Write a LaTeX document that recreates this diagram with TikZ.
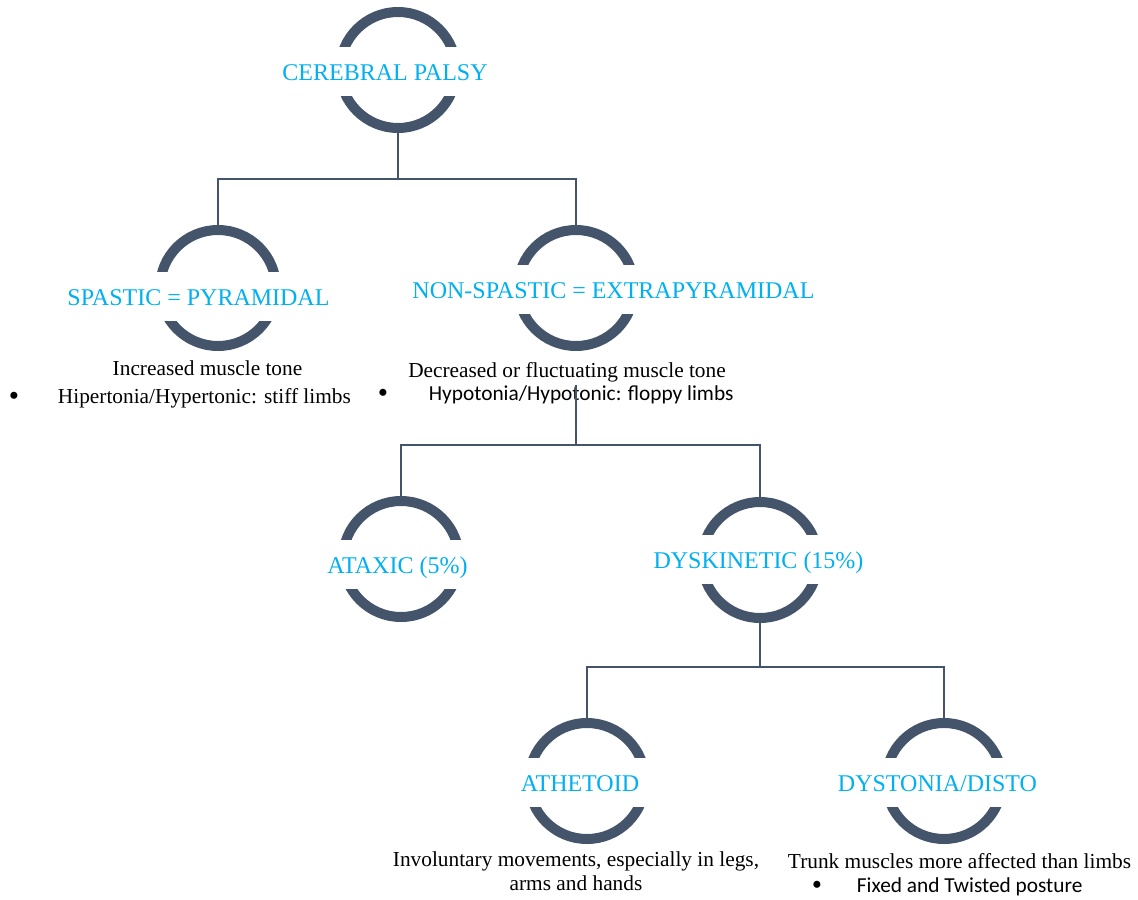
\documentclass[tikz,border=0pt]{standalone}
\usepackage{fontspec}
\setmainfont{Liberation Serif}
\newfontfamily\calibfont{Carlito}
\usetikzlibrary{positioning, calc}
\definecolor{ringgray}{HTML}{44546A}
\definecolor{cpblue}{HTML}{00B0F0}

\begin{document}
\begin{tikzpicture}[
  x=0.75pt, y=-0.75pt,
  ring/.style = {circle, draw=ringgray, line width=7.5pt, minimum size=87pt, inner sep=0pt},
  headlbl/.style = {fill=white, text=cpblue, font=\fontsize{18}{21}\selectfont, anchor=base,
                    text height=22pt, text depth=9.5pt, inner ysep=2.5pt, inner xsep=4pt, minimum width=112pt},
  desc/.style = {anchor=base, font=\fontsize{16}{19}\selectfont, inner sep=2pt},
  bulldot/.style = {anchor=base, font=\fontsize{22}{22}\selectfont, inner sep=0pt, text depth=0pt, text height=8pt},
  bultxt/.style = {desc, anchor=base west, font=\calibfont\fontsize{16}{19}\selectfont},
  conn/.style = {draw=ringgray, line width=1pt}
]
  \useasboundingbox (0,0) rectangle (1138,899);

  % ======================================================
  % Rings
  % ======================================================
  \node[ring] (cp)  at (398,70)  {};
  \node[ring] (sp)  at (218,288) {};
  \node[ring] (nsp) at (576,288) {};
  \node[ring] (at)  at (401,559) {};
  \node[ring] (dk)  at (760,560) {};
  \node[ring] (ath) at (587,781) {};
  \node[ring] (dys) at (944,781) {};

  % ======================================================
  % Descriptions under the rings
  % ======================================================
  % spastic
  \node[desc] (spd) at (207.5,375) {Increased muscle tone};
  \node[bulldot] (spdot) at (14,405) {•};
  \node[desc, anchor=base west] (spb) at (55,403) {Hipertonia/Hypertonic: stiff limbs};

  % non-spastic
  \node[desc, fill=white] (nspd) at (567,377) {Decreased or fluctuating muscle tone};
  \node[bulldot] (nspdot) at (383,402) {•};
  \node[bultxt] (nspb) at (426,400) {Hypotonia/Hypotonic: floppy limbs};

  % athetoid
  \node[desc] (athd)  at (576,866) {Involuntary movements, especially in legs,};
  \node[desc] (athd2) at (576,890) {arms and hands};

  % dystonia
  \node[desc] (dysd) at (959.5,868) {Trunk muscles more affected than limbs};
  \node[bulldot] (dysdot) at (817,894) {•};
  \node[bultxt] (dysb) at (854,892) {Fixed and Twisted posture};

  % ======================================================
  % Connectors
  % ======================================================
  \coordinate (j1) at (398,179);
  \coordinate (j2) at (576,445);
  \coordinate (j3) at (760,667);

  \draw[conn] (cp.south) -- (j1);
  \draw[conn] (j1) -| (sp.north);
  \draw[conn] (j1) -| (nsp.north);

  \draw[conn] (nspd.south -| nsp.south) -- (j2);
  \draw[conn] (j2) -| (at.north);
  \draw[conn] (j2) -| (dk.north);

  \draw[conn] (dk.south) -- (j3);
  \draw[conn] (j3) -| (ath.north);
  \draw[conn] (j3) -| (dys.north);

  % ======================================================
  % Ring labels (white boxes cut the rings)
  % ======================================================
  \node[headlbl] (cpl)  at (385,80)    {CEREBRAL PALSY};
  \node[headlbl] (spl)  at (198.5,305) {SPASTIC = PYRAMIDAL};
  \node[headlbl] (nspl) at (613.5,298) {NON-SPASTIC = EXTRAPYRAMIDAL};
  \node[headlbl] (atl)  at (397.5,573) {ATAXIC (5\%)};
  \node[headlbl] (dkl)  at (758.5,568) {DYSKINETIC (15\%)};
  \node[headlbl] (athl) at (580,791)   {ATHETOID};
  \node[headlbl] (dysl) at (937.5,791) {DYSTONIA/DISTO};

\end{tikzpicture}
\end{document}
